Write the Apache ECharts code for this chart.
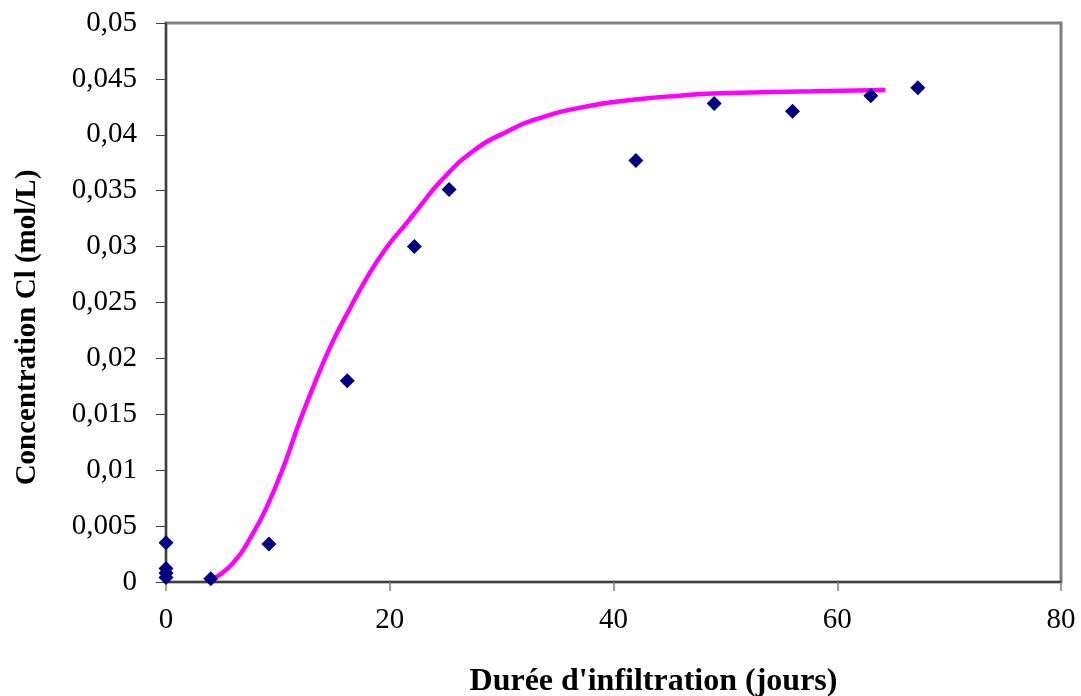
<!DOCTYPE html>
<html>
<head>
<meta charset="utf-8">
<script src="https://cdn.jsdelivr.net/npm/echarts@6/dist/echarts.min.js"></script>
<style>
html,body{margin:0;padding:0;background:#fff;}
#chart{width:1081px;height:696px;}
</style>
</head>
<body>
<div id="chart"></div>
<script>
// Measured data (jours, mol/L)
const obsX = [0, 0, 0, 0, 4, 9.2, 16.2, 22.2, 25.3, 42, 49, 56, 63, 67.2];
const obsY = [0.0035, 0.0012, 0.0008, 0.0004, 0.0003, 0.0034, 0.018, 0.030, 0.0351, 0.0377, 0.0428, 0.0421, 0.0435, 0.0442];

// Fitted model curve
const fitX = [3.9, 6.0, 7.8, 9.0, 10.5, 12.0, 13.5, 14.9, 16.4, 18.0, 19.7, 21.5, 22.7, 24.5, 27.4, 30.5, 33.4, 37.9, 42.4, 45.9, 48.9, 53, 57.8, 64.3];
const fitY = [0.0001, 0.0017, 0.0044, 0.0067, 0.0103, 0.0145, 0.0183, 0.0215, 0.0244, 0.0273, 0.0299, 0.0321, 0.0336, 0.0358, 0.0385, 0.0403, 0.0415, 0.0426, 0.0432, 0.0435, 0.0437, 0.0438, 0.0439, 0.0440];

const xTicks = [0, 20, 40, 60, 80];
const yTicks = ['0', '0,005', '0,01', '0,015', '0,02', '0,025', '0,03', '0,035', '0,04', '0,045', '0,05'];

const chart = echarts.init(document.getElementById('chart'), null, {renderer: 'canvas'});
const font = '"Liberation Serif", "Times New Roman", serif';

chart.setOption({
  animation: false,
  backgroundColor: '#ffffff',
  grid: {
    left: 166, top: 23, right: 20, bottom: 114,
    containLabel: false, outerBoundsMode: 'none',
    show: true, borderColor: '#808080', borderWidth: 3, backgroundColor: '#ffffff'
  },
  xAxis: {
    type: 'value', min: 0, max: 80, interval: 20,
    name: "Durée d'infiltration (jours)",
    nameLocation: 'middle', nameGap: 84,
    nameTextStyle: {fontFamily: font, fontSize: 32, fontWeight: 'bold', color: '#000', verticalAlign: 'top', padding: [0, 0, 0, 80]},
    axisLine: {show: true, onZero: false, lineStyle: {color: '#404040', width: 2}},
    axisTick: {show: true, length: 9, lineStyle: {color: '#808080', width: 1.5}},
    axisLabel: {
      fontFamily: font, fontSize: 29, color: '#000', margin: 24,
      formatter: (v) => { const i = xTicks.indexOf(v); return i >= 0 ? String(xTicks[i]) : ''; }
    },
    splitLine: {show: false}
  },
  yAxis: {
    type: 'value', min: 0, max: 0.05, interval: 0.005,
    name: 'Concentration Cl (mol/L)',
    nameLocation: 'middle', nameGap: 124, nameRotate: 90,
    nameTextStyle: {fontFamily: font, fontSize: 29, fontWeight: 'bold', color: '#000', padding: [0, 50, 0, 0]},
    axisLine: {show: true, onZero: false, lineStyle: {color: '#404040', width: 2}},
    axisTick: {show: true, length: 10, lineStyle: {color: '#404040', width: 1}},
    axisLabel: {
      fontFamily: font, fontSize: 29, color: '#000', margin: 29,
      formatter: (v) => yTicks[Math.round(v / 0.005)] || ''
    },
    splitLine: {show: false}
  },
  series: [
    {
      type: 'line',
      data: fitX.map((x, i) => [x, fitY[i]]),
      smooth: 0.5,
      showSymbol: false,
      symbol: 'none',
      lineStyle: {color: '#FF00FF', width: 4.5},
      z: 2
    },
    {
      type: 'scatter',
      data: obsX.map((x, i) => [x, obsY[i]]),
      symbol: 'diamond',
      symbolSize: [15, 15],
      itemStyle: {color: '#000080', opacity: 1},
      z: 3
    }
  ]
});
</script>
</body>
</html>
